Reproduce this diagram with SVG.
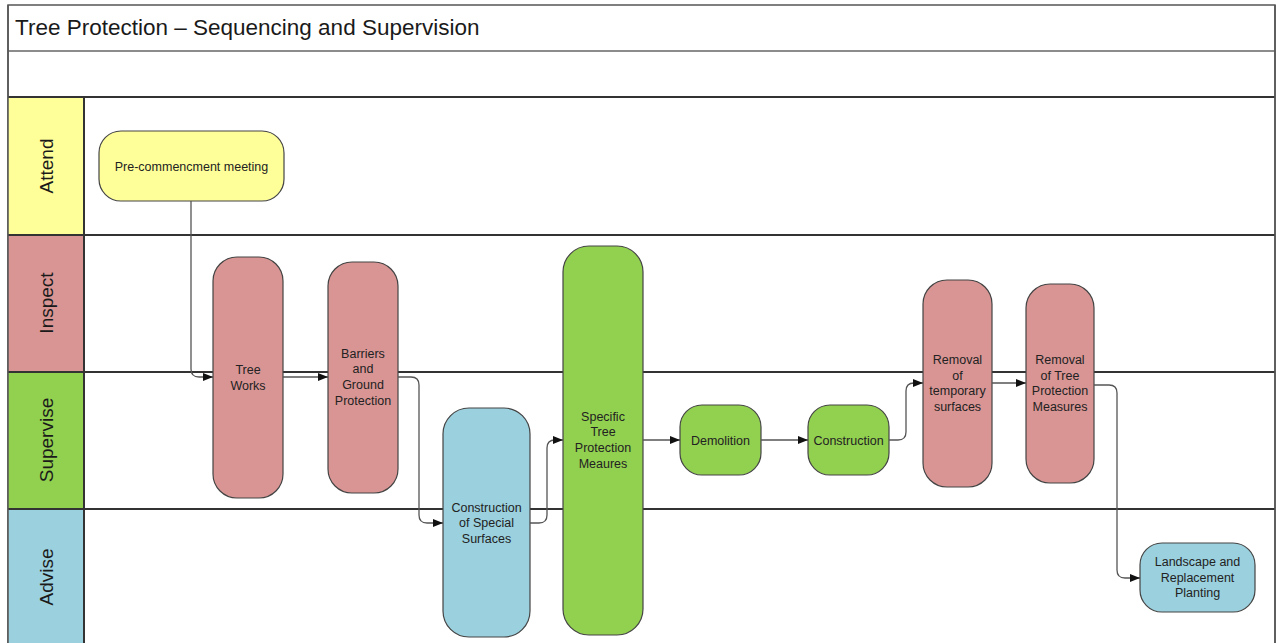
<svg xmlns="http://www.w3.org/2000/svg" width="1276" height="643" viewBox="0 0 1276 643">
<style>
.frame{fill:#ffffff;stroke:#555555;stroke-width:1.5}
.lane{stroke:#333333;stroke-width:2;fill:none}
.lbl{font-family:"Liberation Sans",Arial,sans-serif;font-size:19px;fill:#1a1a1a;text-anchor:middle}
.title{font-family:"Liberation Sans",Arial,sans-serif;font-size:22.5px;fill:#1a1a1a}
.node{stroke:#444444;stroke-width:1.2}
.t{font-family:"Liberation Sans",Arial,sans-serif;font-size:12.5px;fill:#222222;text-anchor:middle}
.yel{fill:#FFFF99}
.pink{fill:#D99594}
.grn{fill:#92D050}
.blu{fill:#9BD0DE}
.conn{fill:none;stroke:#555555;stroke-width:1.3}
</style>
<defs>
<marker id="arr" markerUnits="userSpaceOnUse" markerWidth="10" markerHeight="8" refX="10" refY="4" orient="auto">
<path d="M0,0 L10,4 L0,8 z" fill="#111111"/>
</marker>
</defs>
<rect x="0" y="0" width="1276" height="643" fill="#ffffff"/>
<g id="pool">
<rect class="frame" x="8" y="5" width="1267" height="660"/>
<line class="lane" x1="8" y1="51" x2="1275" y2="51" style="stroke:#666666;stroke-width:1.5"/>
<text class="title" x="15" y="35">Tree Protection – Sequencing and Supervision</text>
<rect class="yel" x="8" y="97" width="76" height="138"/>
<rect class="pink" x="8" y="235" width="76" height="137"/>
<rect class="grn" x="8" y="372" width="76" height="137"/>
<rect class="blu" x="8" y="509" width="76" height="140"/>
<line class="lane" x1="8" y1="97" x2="1275" y2="97"/>
<line class="lane" x1="8" y1="235" x2="1275" y2="235"/>
<line class="lane" x1="8" y1="372" x2="1275" y2="372"/>
<line class="lane" x1="8" y1="509" x2="1275" y2="509"/>
<line class="lane" x1="84" y1="97" x2="84" y2="643"/>
<line class="lane" x1="8" y1="5" x2="8" y2="643" style="stroke:#555555;stroke-width:1.5"/>
<line class="lane" x1="1275" y1="5" x2="1275" y2="643" style="stroke:#555555;stroke-width:1.5"/>
<text class="lbl" transform="translate(53,166) rotate(-90)">Attend</text>
<text class="lbl" transform="translate(53,303) rotate(-90)">Inspect</text>
<text class="lbl" transform="translate(53,440) rotate(-90)">Supervise</text>
<text class="lbl" transform="translate(53,577) rotate(-90)">Advise</text>
</g>
<g id="n-pre">
<rect class="node yel" x="99" y="131" width="185" height="70" rx="22"/>
<text class="t" x="191.5" y="170.5">Pre-commencment meeting</text>
</g>
<g id="n-treeworks">
<rect class="node pink" x="213" y="257" width="70" height="241" rx="24"/>
<text class="t" x="248" y="373.5">Tree</text>
<text class="t" x="248" y="389.5">Works</text>
</g>
<g id="n-barriers">
<rect class="node pink" x="328" y="262" width="70" height="231" rx="24"/>
<text class="t" x="363" y="357.5">Barriers</text>
<text class="t" x="363" y="373.2">and</text>
<text class="t" x="363" y="388.9">Ground</text>
<text class="t" x="363" y="404.6">Protection</text>
</g>
<g id="n-css">
<rect class="node blu" x="443" y="408" width="87" height="229" rx="26"/>
<text class="t" x="486.5" y="511.5">Construction</text>
<text class="t" x="486.5" y="527.2">of Special</text>
<text class="t" x="486.5" y="542.9">Surfaces</text>
</g>
<g id="n-specific">
<rect class="node grn" x="563" y="246" width="80" height="389" rx="26"/>
<text class="t" x="603" y="420.5">Specific</text>
<text class="t" x="603" y="436.2">Tree</text>
<text class="t" x="603" y="451.9">Protection</text>
<text class="t" x="603" y="467.6">Meaures</text>
</g>
<g id="n-demolition">
<rect class="node grn" x="680" y="405" width="81" height="70" rx="22"/>
<text class="t" x="720.5" y="444.5">Demolition</text>
</g>
<g id="n-construction">
<rect class="node grn" x="808" y="405" width="81" height="70" rx="22"/>
<text class="t" x="848.5" y="444.5">Construction</text>
</g>
<g id="n-remtemp">
<rect class="node pink" x="923" y="280" width="69" height="207" rx="24"/>
<text class="t" x="957.5" y="364">Removal</text>
<text class="t" x="957.5" y="379.5">of</text>
<text class="t" x="957.5" y="395">temporary</text>
<text class="t" x="957.5" y="410.5">surfaces</text>
</g>
<g id="n-remtpm">
<rect class="node pink" x="1026" y="284" width="68" height="199" rx="24"/>
<text class="t" x="1060" y="364">Removal</text>
<text class="t" x="1060" y="379.5">of Tree</text>
<text class="t" x="1060" y="395">Protection</text>
<text class="t" x="1060" y="410.5">Measures</text>
</g>
<g id="n-landscape">
<rect class="node blu" x="1140" y="543" width="115" height="69" rx="22"/>
<text class="t" x="1197.5" y="566">Landscape and</text>
<text class="t" x="1197.5" y="581.5">Replacement</text>
<text class="t" x="1197.5" y="597">Planting</text>
</g>
<g id="connectors">
<path class="conn" marker-end="url(#arr)" d="M191,201 V369 Q191,377 199,377 H213"/>
<path class="conn" marker-end="url(#arr)" d="M283,377 H328"/>
<path class="conn" marker-end="url(#arr)" d="M398,377 H411 Q419,377 419,385 V515 Q419,523 427,523 H443"/>
<path class="conn" marker-end="url(#arr)" d="M530,523 H539 Q547,523 547,515 V448 Q547,440 555,440 H563"/>
<path class="conn" marker-end="url(#arr)" d="M643,440 H680"/>
<path class="conn" marker-end="url(#arr)" d="M761,440 H808"/>
<path class="conn" marker-end="url(#arr)" d="M889,440 H898 Q906,440 906,432 V391 Q906,383 914,383 H923"/>
<path class="conn" marker-end="url(#arr)" d="M992,383 H1026"/>
<path class="conn" marker-end="url(#arr)" d="M1094,385 H1109 Q1117,385 1117,393 V570 Q1117,578 1125,578 H1140"/>
</g>
</svg>
